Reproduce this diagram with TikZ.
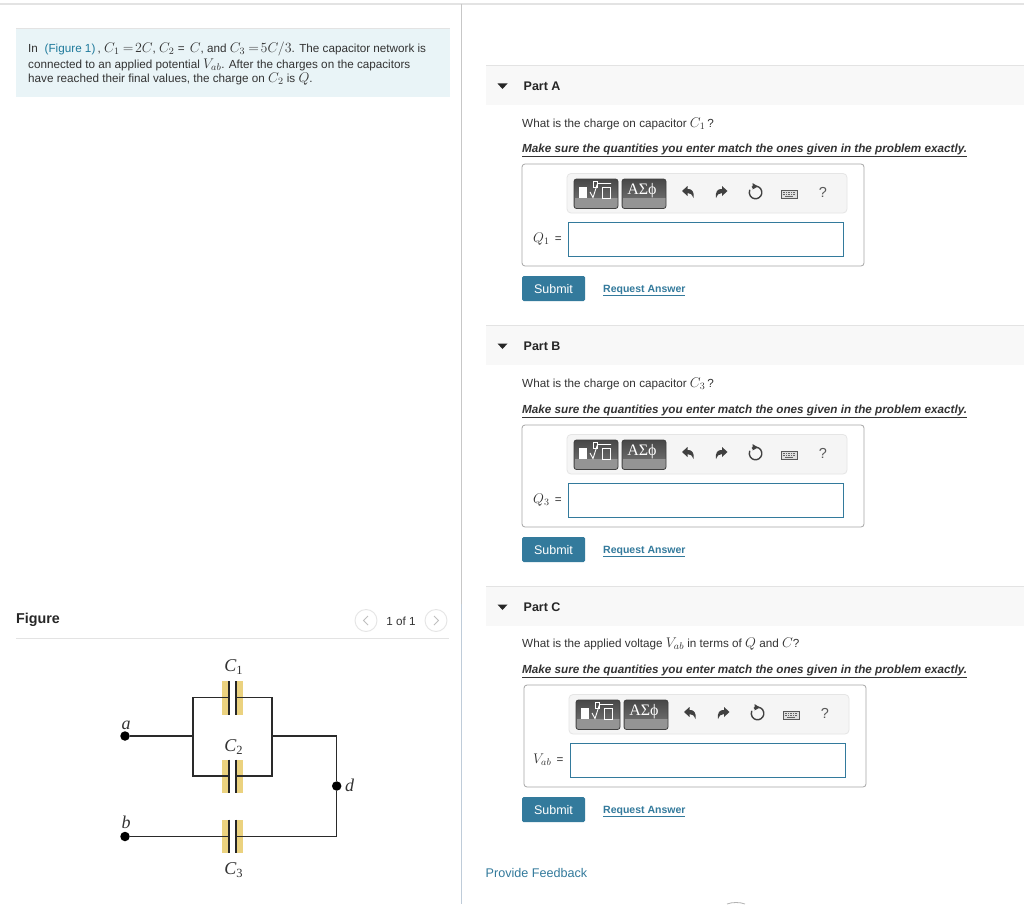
\documentclass[tikz,border=0pt]{standalone}
\usepackage{fix-cm}
\usepackage[no-math]{fontspec}
\setmainfont{Liberation Sans}
\newfontfamily\serifface{Liberation Serif}
\usetikzlibrary{arrows.meta}
\definecolor{txtc}{HTML}{333333}
\definecolor{linkc}{HTML}{1F7A9C}
\definecolor{tealc}{HTML}{337A9C}
\definecolor{introbg}{HTML}{E9F4F7}
\definecolor{rulec}{HTML}{E3E3E3}
\definecolor{bandc}{HTML}{F8F8F8}
\definecolor{capy}{HTML}{EBD27F}
\definecolor{wirec}{HTML}{2A2A2A}
\definecolor{divb}{HTML}{BFCCD9}
\newcommand{\fs}[1]{\fontsize{#1}{#1}\selectfont}
\newcommand{\mth}[1]{{\fs{14}$#1$}}
\newcommand{\capsub}[2]{#1\raisebox{-3pt}{\fs{12.5}\upshape #2}}
\tikzset{
 x=1pt,y=-1pt,
 txt/.style={anchor=base west,inner sep=0pt,text=txtc,font=\fs{11.7}},
 headtxt/.style={txt,text=black!85,font=\fs{12.5}\bfseries},
 linktxt/.style={txt,text=linkc},
 wire/.style={draw=wirec,line width=1.05pt,line join=miter},
 plate/.style={draw=black!85,line width=1.1pt},
 yellowbar/.style={fill=capy,draw=none},
 dot/.style={circle,fill=black,inner sep=0pt,minimum size=9.5pt},
 cirlabel/.style={inner sep=0pt,text=black!80,font=\fs{18}\serifface\itshape},
 pager/.style={circle,draw=black!10,line width=0.9pt,minimum size=22pt,inner sep=0pt},
 toolbtn/.style={rounded corners=2.5pt,draw=black!75,line width=0.8pt},
 btnshade/.style={rounded corners=2.5pt,top color=black!72,bottom color=black!52},
}
% one answer part: #1 dx, #2 dy, #3 letter, #4 question, #5 left-hand side, #6 question baseline, #7 extra dy of the lower block
\newcommand{\answerpart}[7]{%
 \fill[bandc] (486,{65+#2}) rectangle (1024,{105+#2});
 \draw[rulec,line width=0.8pt] (486,{65+#2}) -- (1024,{65+#2});
 \begin{scope}[yshift={-#2pt}]
 \fill[black!85] (497.5,83.5) -- (507.5,83.5) -- (502.5,89) -- cycle;
 \node[headtxt] (part#3) at (523.5,90.2) {Part #3};
 \node[txt] (ques#3) at (522,#6) {#4};
 \begin{scope}[yshift={-#7pt}]
 \node[txt,font=\fs{11.7}\bfseries\itshape] (warn#3) at (522,152.5) {\underline{Make sure the quantities you enter match the ones given in the problem exactly.}};
 \begin{scope}[xshift=#1pt]
 \draw[black!35,line width=0.8pt,rounded corners=3pt,fill=white] (522,164) rectangle (864,266);
 \draw[black!10,line width=0.8pt,rounded corners=4pt,fill=black!4] (567,173.5) rectangle (847,213);
 % template button
 \path[btnshade] (574,179) rectangle (618,208.5);
 \fill[black!42] (574.5,198) rectangle (617.5,207.5);
 \draw[toolbtn] (574,179) rectangle (618,208.5);
 \fill[white] (578.5,187) rectangle (587,198);
 \draw[white,line width=0.7pt] (593,181) rectangle (597,187);
 \draw[white,line width=0.9pt] (590,192) -- (593,197.5) -- (597.5,183.5) -- (611,183.5);
 \draw[white,line width=0.7pt] (602.5,187.5) rectangle (610.5,198);
 % symbols button
 \path[btnshade] (622,179) rectangle (666,208.5);
 \fill[black!42] (622.5,198) rectangle (665.5,207.5);
 \draw[toolbtn] (622,179) rectangle (666,208.5);
 \node[anchor=base,inner sep=0pt,text=white,font=\fs{16}\serifface] (sym#3) at (642,194) {ΑΣϕ};
 % undo
 \fill[black!75] (682,191) -- (687.5,186) -- (687.5,189) .. controls (692,188.5) and (694.5,192) .. (693.5,198) .. controls (692,194.5) and (690.5,193) .. (687.5,193) -- (687.5,196) -- cycle;
 % redo
 \fill[black!75] (727.5,191) -- (722,186) -- (722,189) .. controls (717.5,188.5) and (715,192) .. (716,198) .. controls (717.5,194.5) and (719,193) .. (722,193) -- (722,196) -- cycle;
 % reset
 \draw[black!75,line width=1.4pt] (751.9,187.3) arc[start angle=125,end angle=-205,x radius=6.3,y radius=-6.3];
 \fill[black!75] (752.5,183) -- (758,186.5) -- (752.5,189.5) -- cycle;
 % keyboard
 \draw[black!65,line width=0.8pt,fill=black!12] (781,190) rectangle (797,198.5);
 \draw[black!60,line width=0.9pt,dash pattern=on 1pt off 0.7pt] (782.5,192) -- (796,192) (782.5,194) -- (796,194);
 \draw[black!60,line width=0.9pt] (785,196.5) -- (793,196.5);
 \node[anchor=base,inner sep=0pt,text=black!65,font=\fs{14.5}] (help#3) at (823,197) {?};
 % input
 \draw[tealc,line width=1pt,fill=white] (568,222) rectangle (843,256);
 \end{scope}
 \node[txt] (lhs#3) at (533,242) {#5};
 \fill[tealc,rounded corners=1.5pt] (522,276) rectangle (585,301);
 \node[anchor=base,inner sep=0pt,text=white,font=\fs{12.5}] (sub#3) at (553.5,293.5) {Submit};
 \node[txt,text=tealc,font=\fs{10.5}\bfseries] (req#3) at (603,292) {\underline{Request Answer}};
 \end{scope}
 \end{scope}}
\begin{document}
\begin{tikzpicture}
\useasboundingbox (0,0) rectangle (1024,904);
\fill[white] (0,0) rectangle (1024,904);
% frame lines
\draw[rulec,line width=1.6pt] (0,4) -- (1024,4);
\draw[black!22,line width=1.2pt] (461.5,4) -- (461.5,604);
\draw[divb,line width=1.6pt] (461.5,604) -- (461.5,904);
\draw[black!30,line width=0.8pt] (727,904) .. controls (732,902) and (740,902) .. (745,904);
% intro
\fill[introbg] (16,28) rectangle (450,97);
\draw[rulec,line width=0.8pt] (16,28) -- (450,28);
\node[txt] (intro1a) at (28,52.5) {In};
\node[linktxt] (intro1b) at (44.5,52.5) {(Figure 1)};
\node[txt] (intro1c) at (97.5,52.5) {, \mth{C_1} \mth{=\!2C}, \mth{C_2} = \,\mth{C}, and \mth{C_3} \mth{=\!5C/3}. The capacitor network is};
\node[txt] (intro2) at (28,68.5) {connected to an applied potential \mth{V_{ab}}. After the charges on the capacitors};
\node[txt] (intro3) at (28,82.5) {have reached their final values, the charge on \mth{C_2} is \mth{Q}.};
% figure header
\node[headtxt,font=\fs{14.3}\bfseries] (figtitle) at (16,623) {Figure};
\draw[rulec,line width=1pt] (16,638) -- (449,638);
\node[pager] (prev) at (366,620.5) {};
\node[pager] (next) at (436,620.5) {};
\draw[black!25,line width=0.9pt] (368,616) -- (363.5,620.5) -- (368,625);
\draw[black!25,line width=0.9pt] (434,616) -- (438.5,620.5) -- (434,625);
\node[anchor=base,inner sep=0pt,text=txtc,font=\fs{11.7}] (pagecount) at (401,625) {1 of 1};
% circuit
\foreach \ya/\yb in {681/714.5,759.5/793,819.5/853}{
 \fill[yellowbar] (221.7,\ya) rectangle (228.5,\yb);
 \fill[yellowbar] (236.5,\ya) rectangle (243.3,\yb);
 \draw[plate] (229,\ya) -- (229,\yb) (236,\ya) -- (236,\yb);
}
\node[dot] (a) at (125,736) {};
\node[dot] (b) at (125,836.5) {};
\node[dot] (d) at (336.7,786) {};
\coordinate (jl) at (193,736);
\coordinate (jr) at (272,736);
\coordinate (tl) at (193,697.7);
\coordinate (tr) at (272,697.7);
\coordinate (bl) at (193,776);
\coordinate (br) at (272,776);
\coordinate (c1l) at (229,697.7);
\coordinate (c1r) at (236,697.7);
\coordinate (c2l) at (229,776);
\coordinate (c2r) at (236,776);
\coordinate (c3l) at (229,836.5);
\coordinate (c3r) at (236,836.5);
\coordinate (cornertop) at (336.7,736);
\coordinate (cornerbot) at (336.7,836.5);
\draw[wire] (a) -- (jl);
\draw[wire] (c1l) -- (tl) -- (bl) -- (c2l);
\draw[wire] (c1r) -- (tr) -- (br) -- (c2r);
\draw[wire] (jr) -- (cornertop) -- (d) -- (cornerbot) -- (c3r);
\draw[wire] (b) -- (c3l);
\node[cirlabel,anchor=base] (lc1) at (233.5,671) {\capsub{C}{1}};
\node[cirlabel,anchor=base] (lc2) at (233.5,751) {\capsub{C}{2}};
\node[cirlabel,anchor=base] (lc3) at (233.5,874) {\capsub{C}{3}};
\node[cirlabel,anchor=base] (la) at (126,729) {a};
\node[cirlabel,anchor=base] (lb) at (126,828) {b};
\node[cirlabel,anchor=base] (ld) at (349.5,791) {d};
% parts
\answerpart{0}{0}{A}{What is the charge on capacitor \mth{C_1}\,?}{\mth{Q_1} \,=}{127.5}{0}
\answerpart{0}{260}{B}{What is the charge on capacitor \mth{C_3}\,?}{\mth{Q_3} \,=}{127.5}{1}
\answerpart{2}{521}{C}{What is the applied voltage \mth{V_{ab}} in terms of \mth{Q} and \mth{C}?}{\mth{V_{ab}} \,=}{126.5}{0}
\node[txt,text=tealc,font=\fs{12.6}] (feedback) at (485.5,877) {Provide Feedback};
\end{tikzpicture}
\end{document}
